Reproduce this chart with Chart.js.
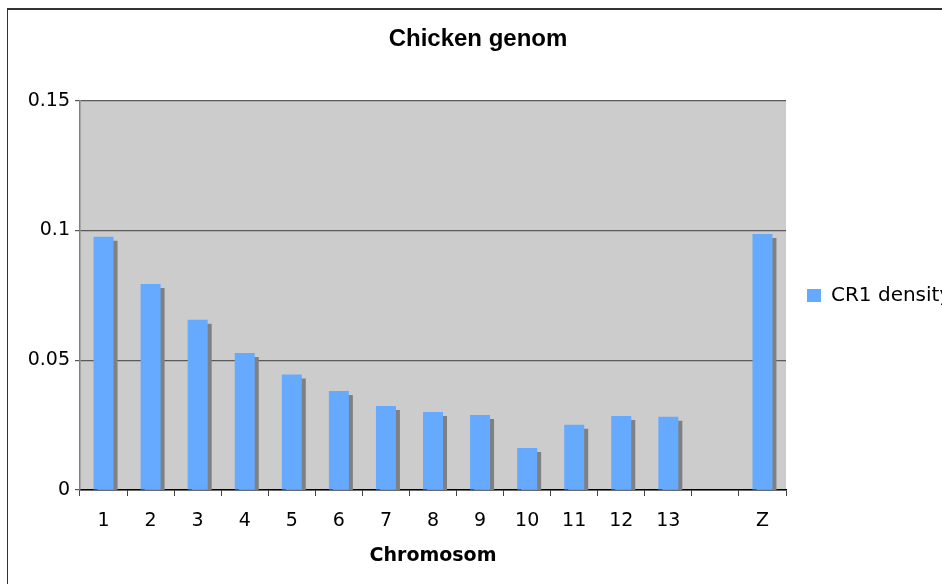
<!DOCTYPE html>
<html>
<head>
<meta charset="utf-8">
<script src="https://cdn.jsdelivr.net/npm/chart.js@4.4.1/dist/chart.umd.min.js"></script>
<style>
  html, body { margin: 0; padding: 0; background: #fff; overflow: hidden; }
  #wrap { position: relative; width: 942px; height: 584px; }
  #frame {
    position: absolute; left: 7px; top: 8px; width: 960px; height: 600px;
    border-top: 2px solid #333; border-left: 1px solid #333;
    pointer-events: none;
  }
</style>
</head>
<body>
<div id="wrap">
  <canvas id="chart" width="942" height="584"></canvas>
  <div id="frame"></div>
</div>
<script>
/* ===== DATA ===== */

const chromosomes = ['1', '2', '3', '4', '5', '6', '7', '8', '9', '10', '11', '12', '13', '', 'Z'];

// CR1 density per chromosome (no value for the empty slot)
const cr1Density = [0.0976, 0.0794, 0.0656, 0.0528, 0.0445, 0.0382, 0.0324, 0.0301,
                    0.0289, 0.0162, 0.0251, 0.0285, 0.0282, null, 0.0987];

const yTicks = [0, 0.05, 0.1, 0.15];

/* ===== HELPERS ===== */

const FONT_FAMILY = '"DejaVu Sans", Verdana, sans-serif';
const TITLE_FAMILY = '"Liberation Sans", Arial, sans-serif';

// grey plot area
const plotBgPlugin = {
  id: 'plotBg',
  beforeDraw(chart) {
    const { ctx, chartArea: a } = chart;
    ctx.save();
    ctx.fillStyle = '#cccccc';
    ctx.fillRect(a.left, a.top, a.right - a.left, a.bottom - a.top);
    ctx.restore();
  }
};

// hard drop shadow behind the bars, like the old Excel chart
const barShadowPlugin = {
  id: 'barShadow',
  beforeDatasetsDraw(chart) {
    const ctx = chart.ctx;
    ctx.save();
    ctx.shadowColor = '#808080';
    ctx.shadowOffsetX = 4;
    ctx.shadowOffsetY = 4;
    ctx.shadowBlur = 0;
  },
  afterDatasetsDraw(chart) {
    chart.ctx.restore();
  }
};

/* ===== CHART ===== */

new Chart(document.getElementById('chart'), {
  type: 'bar',
  data: {
    labels: chromosomes,
    datasets: [{
      label: 'CR1 density',
      data: cr1Density,
      backgroundColor: '#66aaff',
      borderWidth: 0,
      barPercentage: 0.425,
      categoryPercentage: 1,
      clip: 0,
    }]
  },
  options: {
    responsive: false,
    animation: false,
    layout: { padding: { left: 14, right: 0, top: 0, bottom: 0 } },
    plugins: {
      title: {
        display: true,
        text: 'Chicken genom',
        color: '#000',
        font: { family: TITLE_FAMILY, size: 24, weight: 'bold' },
        padding: { top: 25, bottom: 47 },
      },
      legend: {
        position: 'right',
        fullSize: false,
        maxWidth: 156,
        labels: {
          color: '#000',
          font: { family: FONT_FAMILY, size: 20 },
          boxWidth: 14,
          boxHeight: 13,
          padding: 21,
        }
      },
      tooltip: { enabled: false },
    },
    scales: {
      x: {
        grid: {
          offset: true,
          drawOnChartArea: false,
          tickLength: 6,
          tickColor: '#444',
        },
        border: { color: '#000', width: 1.5 },
        ticks: {
          font: { family: FONT_FAMILY, size: 19 },
          color: '#000',
          maxRotation: 0,
          autoSkip: false,
          padding: 14,
        },
        title: {
          display: true,
          text: 'Chromosom',
          color: '#000',
          font: { family: FONT_FAMILY, size: 19, weight: 'bold' },
          padding: { top: 0, bottom: 17 },
        },
        afterFit(scale) { scale.height = 94; }
      },
      y: {
        min: 0,
        max: 0.15,
        afterBuildTicks(scale) { scale.ticks = yTicks.map(v => ({ value: v })); },
        grid: {
          color: '#5a5a5a',
          lineWidth: 1.2,
          tickLength: 5,
          tickColor: '#555',
        },
        border: { color: '#808080', width: 1.5 },
        ticks: {
          font: { family: FONT_FAMILY, size: 19 },
          color: '#000',
          padding: 5,
          callback(v) { return String(+Number(v).toFixed(2)); }
        },
        afterFit(scale) { scale.width = 66; }
      }
    }
  },
  plugins: [plotBgPlugin, barShadowPlugin]
});
</script>
</body>
</html>
